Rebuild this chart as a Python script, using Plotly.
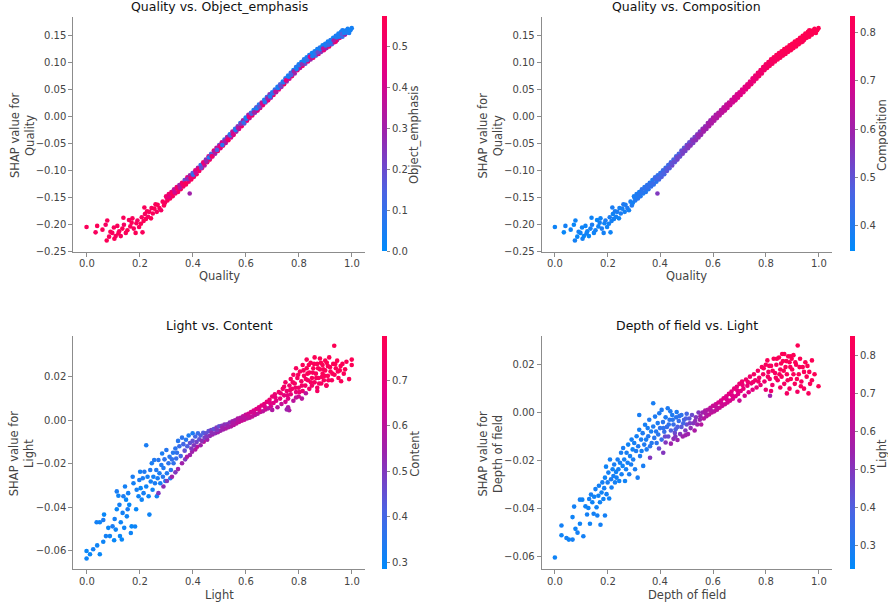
import plotly.graph_objects as go

# ---------------- data: Quality SHAP (shared by panels 1 and 2) ----------------
q_x = [0.000,0.034,0.040,0.060,0.072,0.076,0.078,0.085,0.090,0.097,
       0.103,0.105,0.110,0.116,0.120,0.123,0.129,0.135,0.139,0.141,
       0.148,0.154,0.160,0.165,0.170,0.173,0.178,0.185,0.188,0.192,
       0.198,0.205,0.208,0.211,0.215,0.218,0.220,0.224,0.228,0.232,
       0.236,0.243,0.245,0.250,0.256,0.260,0.265,0.268,0.275,0.281,
       0.287,0.292,0.296,0.389,
       0.300,0.305,0.310,0.315,0.320,0.325,0.330,0.335,0.340,0.345,
       0.350,0.355,0.360,0.365,0.370,0.375,0.380,0.385,0.390,0.395,
       0.400,0.405,0.410,0.415,0.420,0.425,0.430,0.435,0.440,0.445,
       0.450,0.455,0.460,0.465,0.470,0.475,0.480,0.485,0.490,0.495,
       0.500,0.505,0.510,0.515,0.520,0.525,0.530,0.535,0.540,0.545,
       0.550,0.555,0.560,0.565,0.570,0.575,0.580,0.585,0.590,0.595,
       0.600,0.605,0.610,0.615,0.620,0.625,0.630,0.635,0.640,0.645,
       0.650,0.655,0.660,0.665,0.670,0.675,0.680,0.685,0.690,0.695,
       0.700,0.705,0.710,0.715,0.720,0.725,0.730,0.735,0.740,0.745,
       0.750,0.755,0.760,0.765,0.770,0.775,0.780,0.785,0.790,0.795,
       0.800,0.805,0.810,0.815,0.820,0.825,0.830,0.835,0.840,0.845,
       0.850,0.855,0.860,0.865,0.870,0.875,0.880,0.885,0.890,0.895,
       0.900,0.905,0.910,0.915,0.920,0.925,0.930,0.935,0.940,0.945,
       0.950,0.955,0.960,0.965,0.970,0.975,0.980,
       0.990,1.000,
       0.995,0.985,0.965,0.940]
q_y = [-0.205,-0.215,-0.203,-0.210,-0.201,-0.230,-0.193,-0.223,-0.214,-0.216,
       -0.206,-0.227,-0.222,-0.203,-0.217,-0.213,-0.222,-0.208,-0.188,-0.201,
       -0.216,-0.211,-0.192,-0.204,-0.197,-0.189,-0.208,-0.216,-0.198,-0.193,
       -0.205,-0.199,-0.187,-0.215,-0.194,-0.169,-0.181,-0.190,-0.176,-0.186,
       -0.177,-0.189,-0.170,-0.180,-0.171,-0.163,-0.177,-0.164,-0.170,-0.174,
       -0.158,-0.165,-0.160,-0.143,
       -0.148,-0.156,-0.144,-0.152,-0.140,-0.148,-0.135,-0.143,-0.131,-0.140,
       -0.127,-0.135,-0.123,-0.130,-0.118,-0.126,-0.113,-0.121,-0.109,-0.117,
       -0.105,-0.112,-0.100,-0.107,-0.095,-0.101,-0.090,-0.096,-0.085,-0.091,
       -0.080,-0.085,-0.074,-0.080,-0.069,-0.074,-0.063,-0.069,-0.058,-0.064,
       -0.053,-0.059,-0.048,-0.054,-0.043,-0.049,-0.038,-0.044,-0.033,-0.039,
       -0.028,-0.034,-0.023,-0.028,-0.018,-0.023,-0.012,-0.018,-0.007,-0.013,
       -0.002,-0.008,0.003,-0.003,0.007,0.002,0.012,0.007,0.017,0.011,
       0.022,0.016,0.026,0.021,0.031,0.026,0.036,0.030,0.041,0.035,
       0.045,0.040,0.050,0.045,0.055,0.050,0.060,0.055,0.065,0.060,
       0.071,0.065,0.076,0.070,0.081,0.075,0.086,0.080,0.092,0.086,
       0.097,0.090,0.101,0.094,0.106,0.098,0.110,0.102,0.114,0.106,
       0.118,0.109,0.121,0.113,0.125,0.116,0.128,0.120,0.132,0.123,
       0.135,0.127,0.139,0.130,0.142,0.134,0.146,0.138,0.150,0.142,
       0.154,0.146,0.157,0.148,0.159,0.152,0.160,
       0.155,0.164,
       0.160,0.163,0.160,0.139]
obj_emphasis = [0.55,0.54,0.56,0.55,0.53,0.56,0.55,0.54,0.56,0.55,
                0.55,0.56,0.54,0.55,0.56,0.55,0.54,0.56,0.55,0.53,
                0.55,0.56,0.54,0.55,0.56,0.55,0.54,0.56,0.55,0.53,
                0.55,0.56,0.54,0.55,0.56,0.55,0.54,0.56,0.55,0.53,
                0.55,0.56,0.54,0.55,0.56,0.55,0.54,0.56,0.55,0.53,
                0.55,0.56,0.54,0.30,
                0.52,0.55,0.50,0.56,0.48,0.54,0.35,0.55,0.50,0.53,
                0.30,0.55,0.50,0.52,0.20,0.55,0.45,0.50,0.30,0.55,
                0.15,0.50,0.45,0.55,0.30,0.52,0.10,0.45,0.50,0.35,
                0.25,0.55,0.40,0.50,0.15,0.45,0.50,0.30,0.35,0.55,
                0.20,0.45,0.40,0.50,0.10,0.35,0.30,0.55,0.05,0.40,
                0.35,0.50,0.10,0.30,0.25,0.45,0.08,0.50,0.30,0.20,
                0.05,0.45,0.30,0.35,0.10,0.50,0.05,0.25,0.20,0.45,
                0.08,0.40,0.30,0.50,0.05,0.35,0.10,0.45,0.25,0.30,
                0.05,0.50,0.10,0.30,0.05,0.45,0.15,0.35,0.03,0.50,
                0.08,0.25,0.05,0.40,0.10,0.50,0.04,0.30,0.08,0.45,
                0.05,0.35,0.03,0.50,0.08,0.20,0.04,0.45,0.06,0.30,
                0.03,0.50,0.05,0.15,0.04,0.40,0.07,0.25,0.03,0.45,
                0.05,0.30,0.04,0.50,0.06,0.15,0.03,0.40,0.05,0.25,
                0.04,0.45,0.03,0.10,0.05,0.30,0.04,
                0.05,0.04,
                0.05,0.04,0.05,0.50]
composition = [0.37,0.36,0.38,0.37,0.36,0.38,0.37,0.36,0.38,0.37,
               0.37,0.38,0.36,0.37,0.38,0.37,0.36,0.38,0.37,0.39,
               0.37,0.38,0.36,0.37,0.38,0.37,0.39,0.38,0.37,0.39,
               0.37,0.38,0.39,0.37,0.38,0.39,0.37,0.38,0.39,0.38,
               0.39,0.37,0.38,0.39,0.38,0.40,0.38,0.39,0.40,0.38,
               0.39,0.40,0.38,0.55,
               0.38,0.40,0.39,0.41,0.38,0.40,0.42,0.39,0.41,0.40,
               0.42,0.40,0.41,0.43,0.40,0.42,0.44,0.41,0.43,0.45,
               0.42,0.48,0.44,0.46,0.43,0.50,0.45,0.47,0.44,0.52,
               0.46,0.48,0.45,0.53,0.47,0.50,0.48,0.54,0.49,0.52,
               0.50,0.55,0.51,0.56,0.52,0.54,0.53,0.57,0.54,0.58,
               0.55,0.57,0.56,0.60,0.57,0.59,0.58,0.61,0.59,0.62,
               0.60,0.62,0.61,0.63,0.62,0.64,0.63,0.65,0.64,0.66,
               0.65,0.67,0.66,0.68,0.67,0.69,0.68,0.70,0.69,0.71,
               0.70,0.72,0.71,0.73,0.72,0.74,0.73,0.75,0.74,0.76,
               0.75,0.76,0.76,0.77,0.77,0.78,0.78,0.78,0.79,0.79,
               0.79,0.80,0.80,0.80,0.81,0.80,0.81,0.81,0.82,0.81,
               0.82,0.82,0.82,0.82,0.83,0.82,0.83,0.82,0.83,0.83,
               0.83,0.82,0.83,0.83,0.83,0.82,0.83,0.83,0.83,0.83,
               0.83,0.82,0.83,0.83,0.83,0.83,0.83,
               0.83,0.83,
               0.83,0.83,0.83,0.82]
# core of the Quality band (points along the middle of the band)
q_core_x = [0.302,0.312,0.322,0.332,0.342,0.352,0.362,0.372,0.382,0.392,
            0.402,0.412,0.422,0.432,0.442,0.452,0.462,0.472,0.482,0.492,
            0.502,0.512,0.522,0.532,0.542,0.552,0.562,0.572,0.582,0.592,
            0.602,0.612,0.622,0.632,0.642,0.652,0.662,0.672,0.682,0.692,
            0.702,0.712,0.722,0.732,0.742,0.752,0.762,0.772,0.782,0.792,
            0.802,0.812,0.822,0.832,0.842,0.852,0.862,0.872,0.882,0.892,
            0.902,0.912,0.922,0.932,0.942,0.952,0.962,0.972,0.982,0.992]
q_core_y = [-0.151,-0.149,-0.143,-0.141,-0.134,-0.132,-0.126,-0.124,-0.116,-0.114,
            -0.108,-0.105,-0.097,-0.095,-0.087,-0.084,-0.076,-0.074,-0.065,-0.062,
            -0.055,-0.053,-0.045,-0.043,-0.035,-0.033,-0.025,-0.022,-0.014,-0.011,
            -0.004,-0.001,0.005,0.008,0.015,0.018,0.024,0.027,0.034,0.037,
            0.043,0.046,0.053,0.056,0.063,0.067,0.074,0.077,0.084,0.088,
            0.095,0.097,0.103,0.105,0.111,0.112,0.118,0.119,0.125,0.126,
            0.132,0.133,0.139,0.141,0.147,0.148,0.153,0.155,0.156,0.160]
q_core_obj = [0.50,0.45,0.55,0.40,0.52,0.35,0.50,0.55,0.25,0.48,
              0.10,0.40,0.50,0.20,0.45,0.30,0.05,0.50,0.35,0.15,
              0.45,0.08,0.30,0.50,0.12,0.40,0.05,0.35,0.25,0.10,
              0.05,0.45,0.15,0.30,0.05,0.20,0.40,0.08,0.30,0.05,
              0.10,0.35,0.05,0.20,0.08,0.45,0.05,0.15,0.30,0.04,
              0.06,0.25,0.04,0.10,0.40,0.05,0.08,0.20,0.04,0.35,
              0.05,0.10,0.04,0.30,0.06,0.05,0.15,0.04,0.05,0.03]
q_core_comp = [0.39,0.40,0.41,0.41,0.42,0.43,0.43,0.44,0.45,0.46,
               0.46,0.47,0.48,0.49,0.50,0.51,0.52,0.52,0.53,0.54,
               0.55,0.56,0.56,0.57,0.58,0.59,0.60,0.60,0.61,0.62,
               0.63,0.63,0.64,0.65,0.66,0.67,0.68,0.68,0.69,0.70,
               0.71,0.72,0.73,0.74,0.74,0.75,0.76,0.77,0.77,0.78,
               0.79,0.79,0.80,0.80,0.81,0.81,0.82,0.82,0.82,0.83,
               0.83,0.83,0.83,0.83,0.83,0.83,0.83,0.83,0.83,0.83]

# ---------------- data: Light SHAP vs Content ----------------
light_x = [0.000,0.000,0.013,0.025,0.040,0.050,0.038,0.050,0.063,0.066,
           0.063,0.073,0.082,0.088,0.098,0.104,0.106,0.110,0.114,0.114,
           0.120,0.124,0.126,0.129,0.133,0.136,0.139,0.142,0.145,0.149,
           0.152,0.155,0.157,0.161,0.167,0.170,0.174,0.177,0.183,0.187,
           0.189,0.196,0.199,0.202,0.204,0.208,0.212,0.215,0.218,0.225,
           0.225,0.230,0.234,0.237,0.240,0.242,0.246,0.249,0.252,0.255,
           0.258,0.263,0.265,0.268,0.271,0.275,0.278,0.282,0.285,0.288,
           0.290,0.294,0.297,0.301,0.303,0.309,0.313,0.316,0.318,0.322,
           0.326,0.328,0.335,0.338,0.341,0.345,0.350,0.355,0.360,
           0.271,0.290,0.303,0.322,0.335,0.345,0.360,0.372,0.379,0.390,
           0.398,0.410,0.417,0.430,0.442,
           0.365,0.370,0.375,0.380,0.385,0.390,0.395,0.400,0.400,0.405,
           0.410,0.415,0.420,0.425,0.430,0.435,0.440,0.445,0.450,0.455,
           0.460,0.465,0.470,0.475,0.480,0.485,0.490,0.495,0.500,0.505,
           0.510,0.515,0.520,0.525,0.530,0.535,0.540,0.545,0.550,0.555,
           0.560,0.565,0.570,0.575,0.580,0.585,0.590,0.595,0.600,0.605,
           0.610,0.615,0.620,0.625,0.630,0.635,0.640,0.645,0.650,0.655,
           0.660,0.665,0.670,0.675,0.680,0.685,0.690,0.695,0.700,0.700,
           0.705,0.710,0.715,0.720,0.725,0.730,0.735,0.740,0.745,0.750,
           0.750,0.755,0.760,0.760,0.765,0.770,0.770,0.775,0.780,0.780,
           0.785,0.790,0.790,0.795,0.800,0.800,0.805,0.810,0.815,0.815,
           0.820,0.825,0.830,0.830,0.835,0.840,0.840,0.845,0.850,0.850,
           0.855,0.860,0.860,0.865,0.870,0.870,0.875,0.880,0.880,0.885,
           0.890,0.890,0.895,0.900,0.900,0.905,0.910,0.910,0.915,0.920,
           0.925,0.930,0.934,0.935,0.940,0.945,0.950,0.955,0.960,0.965,
           0.970,0.980,0.990,1.000,1.000,0.904,0.870,0.764,0.755,
           0.452,0.472,0.492,0.512,0.532,0.552,0.572,0.592,0.612,0.632,
           0.652,0.672,0.692,0.712,0.732,
           0.745,0.758,0.768,0.778,0.788,0.798,0.803,0.812,0.818,0.827,
           0.833,0.838,0.846,0.853,0.858,0.866,0.873,0.877,0.884,0.887,
           0.893,0.898,0.906,0.912,0.918,0.927,0.938,0.948,0.958,0.975,
           0.827,0.812,0.790]
light_y = [-0.0603,-0.0637,-0.0618,-0.0595,-0.0577,-0.0618,-0.0470,-0.0470,-0.0460,-0.0435,
           -0.0560,-0.0534,-0.0496,-0.0534,-0.0489,-0.0553,-0.0455,-0.0504,-0.0410,-0.0328,
           -0.0348,-0.0390,-0.0534,-0.0470,-0.0550,-0.0427,-0.0350,-0.0496,-0.0305,-0.0366,
           -0.0443,-0.0410,-0.0336,-0.0390,-0.0520,-0.0489,-0.0260,-0.0290,-0.0490,-0.0410,
           -0.0320,-0.0350,-0.0275,-0.0237,-0.0313,-0.0366,-0.0267,-0.0336,-0.0237,-0.0115,
           -0.0305,-0.0260,-0.0350,-0.0435,-0.0229,-0.0282,-0.0198,-0.0320,-0.0260,-0.0183,
           -0.0290,-0.0229,-0.0350,-0.0267,-0.0183,-0.0244,-0.0290,-0.0206,-0.0153,-0.0260,
           -0.0220,-0.0180,-0.0280,-0.0137,-0.0244,-0.0198,-0.0168,-0.0267,-0.0229,-0.0180,
           -0.0150,-0.0198,-0.0130,-0.0176,-0.0150,-0.0095,-0.0120,-0.0165,-0.0080,
           -0.0336,-0.0305,-0.0280,-0.0260,-0.0240,-0.0225,-0.0198,-0.0180,-0.0168,-0.0160,
           -0.0145,-0.0135,-0.0122,-0.0115,-0.0099,
           -0.0110,-0.0140,-0.0090,-0.0120,-0.0070,-0.0105,-0.0130,-0.0060,-0.0095,-0.0115,
           -0.0075,-0.0100,-0.0060,-0.0088,-0.0070,-0.0095,-0.0058,-0.0080,-0.0060,-0.0090,
           -0.0050,-0.0072,-0.0045,-0.0065,-0.0040,-0.0060,-0.0033,-0.0055,-0.0028,-0.0048,
           -0.0025,-0.0042,-0.0020,-0.0038,-0.0018,-0.0032,-0.0010,-0.0028,-0.0005,-0.0022,
           0.0000,-0.0015,0.0008,-0.0008,0.0012,-0.0002,0.0018,0.0003,0.0025,0.0008,
           0.0030,0.0012,0.0038,0.0018,0.0045,0.0025,0.0052,0.0030,0.0060,0.0038,
           0.0068,0.0042,0.0075,0.0050,0.0085,0.0055,0.0095,0.0065,0.0110,0.0048,
           0.0080,0.0120,0.0090,0.0060,0.0130,0.0100,0.0075,0.0145,0.0115,0.0085,
           0.0175,0.0135,0.0100,0.0060,0.0160,0.0190,0.0120,0.0145,0.0090,0.0210,
           0.0170,0.0130,0.0240,0.0195,0.0150,0.0110,0.0225,0.0180,0.0255,0.0135,
           0.0205,0.0160,0.0240,0.0280,0.0185,0.0145,0.0220,0.0265,0.0195,0.0160,
           0.0240,0.0290,0.0175,0.0215,0.0260,0.0150,0.0195,0.0235,0.0285,0.0170,
           0.0215,0.0255,0.0185,0.0275,0.0230,0.0160,0.0205,0.0250,0.0290,0.0225,
           0.0185,0.0260,0.0344,0.0210,0.0240,0.0275,0.0195,0.0230,0.0180,0.0260,
           0.0215,0.0270,0.0190,0.0280,0.0255,0.0160,0.0135,0.0046,0.0050,
           -0.0075,-0.0058,-0.0045,-0.0035,-0.0026,-0.0014,-0.0002,0.0010,0.0020,0.0035,
           0.0048,0.0062,0.0080,0.0105,0.0125,
           0.0155,0.0115,0.0140,0.0175,0.0150,0.0210,0.0130,0.0160,0.0230,0.0190,
           0.0215,0.0255,0.0175,0.0220,0.0260,0.0195,0.0240,0.0170,0.0265,0.0200,
           0.0235,0.0205,0.0265,0.0185,0.0245,0.0215,0.0260,0.0225,0.0250,0.0235,
           0.0125,0.0100,0.0105]
content = [0.30,0.31,0.30,0.32,0.31,0.30,0.32,0.31,0.33,0.30,
           0.31,0.32,0.30,0.31,0.33,0.30,0.32,0.31,0.30,0.33,
           0.31,0.32,0.30,0.31,0.30,0.32,0.33,0.31,0.32,0.30,
           0.31,0.33,0.32,0.30,0.31,0.30,0.33,0.32,0.31,0.30,
           0.32,0.31,0.33,0.32,0.30,0.31,0.33,0.32,0.34,0.33,
           0.31,0.32,0.30,0.31,0.34,0.32,0.33,0.31,0.32,0.34,
           0.33,0.34,0.31,0.33,0.35,0.33,0.32,0.34,0.33,0.35,
           0.34,0.36,0.33,0.35,0.34,0.36,0.35,0.34,0.36,0.37,
           0.35,0.37,0.36,0.38,0.37,0.35,0.38,0.40,0.36,
           0.50,0.52,0.50,0.55,0.50,0.55,0.55,0.50,0.58,0.55,
           0.55,0.58,0.60,0.55,0.60,
           0.40,0.45,0.35,0.42,0.33,0.45,0.50,0.33,0.45,0.50,
           0.40,0.48,0.38,0.45,0.42,0.52,0.42,0.48,0.45,0.55,
           0.45,0.52,0.48,0.55,0.45,0.52,0.50,0.55,0.45,0.55,
           0.50,0.55,0.52,0.58,0.50,0.57,0.52,0.58,0.55,0.60,
           0.55,0.60,0.58,0.62,0.58,0.62,0.60,0.63,0.62,0.60,
           0.65,0.60,0.65,0.62,0.66,0.60,0.68,0.60,0.68,0.62,
           0.70,0.60,0.70,0.62,0.70,0.60,0.72,0.65,0.72,0.58,
           0.68,0.72,0.68,0.60,0.74,0.70,0.62,0.74,0.70,0.65,
           0.75,0.72,0.68,0.58,0.74,0.76,0.70,0.74,0.60,0.76,
           0.75,0.70,0.77,0.76,0.74,0.65,0.77,0.76,0.78,0.72,
           0.77,0.75,0.78,0.78,0.76,0.74,0.77,0.78,0.77,0.75,
           0.78,0.79,0.76,0.77,0.78,0.75,0.77,0.78,0.79,0.76,
           0.78,0.78,0.77,0.79,0.78,0.76,0.78,0.78,0.79,0.78,
           0.77,0.79,0.79,0.78,0.78,0.79,0.78,0.79,0.78,0.79,
           0.78,0.79,0.78,0.79,0.79,0.77,0.76,0.58,0.55,
           0.50,0.52,0.50,0.55,0.55,0.58,0.60,0.60,0.62,0.64,
           0.66,0.66,0.68,0.70,0.72,
           0.75,0.70,0.74,0.76,0.74,0.77,0.72,0.75,0.77,0.76,
           0.78,0.78,0.76,0.77,0.78,0.77,0.78,0.76,0.79,0.77,
           0.78,0.78,0.79,0.77,0.78,0.78,0.79,0.78,0.79,0.79,
           0.60,0.60,0.62]

# ---------------- data: Depth of field SHAP vs Light ----------------
dof_x = [0.000,0.025,0.025,0.044,0.053,0.067,0.067,0.073,0.078,0.086,
         0.095,0.095,0.104,0.108,0.116,0.122,0.127,0.130,0.133,0.137,
         0.142,0.147,0.149,0.154,0.158,0.161,0.165,0.167,0.171,0.173,
         0.177,0.180,0.184,0.187,0.190,0.190,0.194,0.196,0.200,0.203,
         0.206,0.209,0.213,0.215,0.219,0.222,0.225,0.228,0.232,0.234,
         0.238,0.241,0.244,0.247,0.251,0.253,0.257,0.259,0.263,0.266,
         0.270,0.272,0.276,0.278,0.282,0.285,0.289,0.291,0.295,0.297,
         0.301,0.304,0.308,0.310,0.314,0.316,0.320,0.320,0.323,0.327,
         0.329,0.333,0.335,0.339,0.342,0.346,0.348,0.352,0.354,0.358,
         0.361,0.365,0.367,0.373,0.373,0.377,0.380,0.384,0.386,0.390,
         0.392,0.396,0.399,0.405,
         0.361,0.411,0.395,
         0.405,0.410,0.415,0.420,0.420,0.425,0.428,0.430,0.435,0.440,
         0.440,0.445,0.450,0.450,0.455,0.460,0.465,0.465,0.470,0.475,
         0.480,0.480,0.485,0.490,0.495,0.500,0.500,0.505,0.510,0.515,
         0.520,0.525,0.530,0.535,0.540,0.545,0.550,0.555,0.560,0.565,
         0.570,0.575,0.580,0.585,0.590,0.595,0.600,0.605,0.610,0.615,
         0.620,0.625,0.630,0.635,0.640,0.645,0.650,0.655,0.660,0.665,
         0.670,0.675,0.680,0.685,0.690,0.695,0.700,0.700,0.705,0.710,
         0.715,0.720,0.725,0.730,0.735,0.740,0.745,0.750,0.755,0.760,
         0.765,0.770,0.775,0.780,0.785,0.790,0.795,0.800,0.800,0.806,
         0.810,0.815,0.816,0.820,0.825,0.830,0.835,0.840,0.845,0.850,
         0.855,0.860,0.865,0.870,0.870,0.875,0.880,0.885,0.890,0.890,
         0.895,0.900,0.905,0.910,0.915,0.921,0.920,0.925,0.930,0.935,
         0.940,0.945,0.950,0.955,0.962,0.965,0.975,0.975,1.000,0.855,
         0.880,0.820,
         0.512,0.532,0.552,0.572,0.592,0.612,0.632,0.652,0.672,0.692,
         0.712,0.732,0.752,0.772,
         0.412,0.432,0.447,0.458,0.472,0.487,0.497,0.438,0.462,0.418,
         0.457,0.495,
         0.792,0.808,0.813,0.826,0.838,0.842,0.852,0.858,0.868,0.878,
         0.883,0.893,0.898,0.905,0.912,0.918,0.928,0.933,0.945,0.958,
         0.968,0.985,0.862,0.895]
dof_y = [-0.0606,-0.0472,-0.0513,-0.0524,-0.0531,-0.0531,-0.0437,-0.0393,-0.0486,-0.0502,
         -0.0465,-0.0364,-0.0364,-0.0517,-0.0392,-0.0426,-0.0399,-0.0361,-0.0465,-0.0343,
         -0.0375,-0.0423,-0.0352,-0.0320,-0.0396,-0.0430,-0.0348,-0.0306,-0.0375,-0.0469,
         -0.0334,-0.0292,-0.0361,-0.0316,-0.0272,-0.0430,-0.0226,-0.0341,-0.0292,-0.0251,
         -0.0359,-0.0196,-0.0279,-0.0313,-0.0237,-0.0265,-0.0217,-0.0292,-0.0248,-0.0272,
         -0.0196,-0.0237,-0.0286,-0.0210,-0.0168,-0.0258,-0.0223,-0.0148,-0.0196,-0.0286,
         -0.0237,-0.0168,-0.0210,-0.0134,-0.0258,-0.0182,-0.0217,-0.0113,-0.0154,-0.0196,
         -0.0127,-0.0237,-0.0161,-0.0099,-0.0272,-0.0141,-0.0072,-0.0010,-0.0182,-0.0113,
         -0.0161,-0.0086,-0.0223,-0.0134,-0.0051,-0.0113,-0.0154,-0.0065,-0.0099,-0.0030,
         -0.0141,-0.0079,-0.0127,0.0039,-0.0058,-0.0106,-0.0017,-0.0079,-0.0127,-0.0044,
         -0.0092,-0.0003,-0.0065,-0.0113,
         -0.0189,-0.0168,-0.0150,
         0.0011,-0.0040,-0.0080,-0.0020,-0.0125,-0.0060,0.0018,-0.0100,-0.0030,-0.0075,
         -0.0130,-0.0010,-0.0050,-0.0110,-0.0085,-0.0020,-0.0060,-0.0115,-0.0035,-0.0090,
         -0.0010,-0.0060,-0.0100,-0.0030,-0.0075,-0.0005,-0.0050,-0.0090,-0.0025,-0.0065,
         -0.0010,-0.0045,-0.0075,-0.0020,-0.0050,0.0000,-0.0030,-0.0050,0.0000,-0.0025,
         0.0008,-0.0015,0.0012,-0.0008,0.0020,0.0000,0.0028,0.0005,0.0035,0.0012,
         0.0042,0.0020,0.0050,0.0028,0.0060,0.0035,0.0068,0.0042,0.0078,0.0050,
         0.0088,0.0058,0.0100,0.0068,0.0108,0.0078,0.0120,0.0050,0.0090,0.0130,
         0.0100,0.0070,0.0138,0.0112,0.0085,0.0150,0.0122,0.0095,0.0160,0.0135,
         0.0105,0.0175,0.0145,0.0115,0.0190,0.0160,0.0130,0.0200,0.0095,0.0218,
         0.0170,0.0140,0.0070,0.0195,0.0115,0.0225,0.0165,0.0200,0.0135,0.0230,
         0.0180,0.0150,0.0215,0.0245,0.0120,0.0190,0.0160,0.0235,0.0210,0.0100,
         0.0140,0.0180,0.0240,0.0120,0.0200,0.0280,0.0087,0.0160,0.0225,0.0130,
         0.0190,0.0100,0.0210,0.0150,0.0080,0.0170,0.0218,0.0135,0.0110,0.0105,
         0.0080,0.0090,
         -0.0045,-0.0035,-0.0015,-0.0003,0.0008,0.0022,0.0038,0.0055,0.0072,0.0092,
         0.0115,0.0128,0.0128,0.0130,
         -0.0065,-0.0050,-0.0030,-0.0070,-0.0015,-0.0045,-0.0025,0.0005,0.0002,-0.0100,
         -0.0100,-0.0095,
         0.0185,0.0150,0.0195,0.0175,0.0145,0.0225,0.0160,0.0205,0.0175,0.0215,
         0.0135,0.0190,0.0225,0.0160,0.0210,0.0140,0.0190,0.0110,0.0170,0.0195,
         0.0120,0.0160,0.0245,0.0235]
light_val = [0.27,0.28,0.27,0.28,0.27,0.28,0.27,0.28,0.27,0.28,
             0.27,0.28,0.27,0.28,0.27,0.28,0.27,0.28,0.27,0.28,
             0.27,0.28,0.27,0.28,0.27,0.28,0.27,0.28,0.27,0.28,
             0.27,0.28,0.27,0.28,0.27,0.28,0.27,0.28,0.29,0.28,
             0.27,0.28,0.29,0.28,0.27,0.28,0.29,0.28,0.27,0.28,
             0.29,0.28,0.27,0.28,0.29,0.28,0.27,0.29,0.28,0.27,
             0.28,0.29,0.28,0.27,0.29,0.28,0.29,0.28,0.27,0.29,
             0.28,0.29,0.30,0.28,0.29,0.30,0.28,0.29,0.30,0.29,
             0.28,0.30,0.29,0.30,0.28,0.29,0.30,0.29,0.31,0.30,
             0.32,0.29,0.31,0.29,0.30,0.32,0.30,0.31,0.33,0.30,
             0.32,0.30,0.33,0.35,
             0.50,0.50,0.45,
             0.30,0.32,0.35,0.30,0.50,0.35,0.30,0.45,0.32,0.40,
             0.55,0.30,0.35,0.52,0.45,0.32,0.40,0.55,0.35,0.50,
             0.33,0.42,0.55,0.38,0.50,0.38,0.45,0.55,0.42,0.52,
             0.45,0.50,0.58,0.50,0.55,0.50,0.55,0.60,0.55,0.60,
             0.58,0.60,0.60,0.62,0.62,0.63,0.65,0.62,0.65,0.63,
             0.68,0.65,0.68,0.65,0.70,0.66,0.70,0.67,0.72,0.68,
             0.72,0.68,0.74,0.70,0.74,0.70,0.76,0.65,0.72,0.77,
             0.74,0.68,0.78,0.75,0.70,0.78,0.76,0.72,0.80,0.77,
             0.74,0.80,0.78,0.75,0.82,0.80,0.77,0.82,0.75,0.83,
             0.80,0.78,0.55,0.82,0.78,0.83,0.81,0.82,0.80,0.83,
             0.82,0.81,0.83,0.84,0.80,0.83,0.82,0.84,0.83,0.80,
             0.82,0.83,0.84,0.82,0.83,0.84,0.80,0.83,0.84,0.82,
             0.83,0.82,0.84,0.83,0.82,0.83,0.84,0.83,0.84,0.80,
             0.80,0.78,
             0.48,0.52,0.55,0.58,0.60,0.63,0.66,0.68,0.70,0.72,
             0.75,0.77,0.78,0.79,
             0.33,0.33,0.32,0.40,0.33,0.38,0.40,0.30,0.30,0.45,
             0.50,0.55,
             0.82,0.80,0.82,0.82,0.81,0.83,0.82,0.83,0.83,0.83,
             0.82,0.83,0.84,0.83,0.84,0.83,0.84,0.82,0.83,0.84,
             0.83,0.84,0.84,0.84]

# ---------------- chart text / ticks ----------------
titles = ["Quality vs. Object_emphasis", "Quality vs. Composition",
          "Light vs. Content", "Depth of field vs. Light"]
x_labels = ["Quality", "Quality", "Light", "Depth of field"]
y_labels = ["SHAP value for<br>Quality", "SHAP value for<br>Quality",
            "SHAP value for<br>Light", "SHAP value for<br>Depth of field"]
cbar_titles = ["Object_emphasis", "Composition", "Content", "Light"]
x_ticks = [0.0, 0.2, 0.4, 0.6, 0.8, 1.0]
y_ticks_top = [-0.25, -0.20, -0.15, -0.10, -0.05, 0.00, 0.05, 0.10, 0.15]
y_ticks_bottom = [-0.06, -0.04, -0.02, 0.00, 0.02]
cb_ticks = [[0.0, 0.1, 0.2, 0.3, 0.4, 0.5],
            [0.4, 0.5, 0.6, 0.7, 0.8],
            [0.3, 0.4, 0.5, 0.6, 0.7],
            [0.3, 0.4, 0.5, 0.6, 0.7, 0.8]]
cb_ranges = [(0.0, 0.573), (0.347, 0.834), (0.286, 0.798), (0.239, 0.852)]

# ---------------- figure ----------------
W, H = 888, 607
def px(v): return v / W
def py(v): return 1 - v / H

colorscale = [[0.0, "rgb(0,139,251)"], [0.25, "rgb(75,99,227)"],
              [0.5, "rgb(155,35,173)"], [0.75, "rgb(224,0,134)"],
              [1.0, "rgb(255,0,81)"]]

TXT = "#444444"
LINE = "#8c8c8c"
FONT = "DejaVu Sans"

panels = [
    (q_x + q_core_x, q_y + q_core_y, obj_emphasis + q_core_obj),
    (q_x + q_core_x, q_y + q_core_y, composition + q_core_comp),
    (light_x, light_y, content),
    (dof_x, dof_y, light_val),
]
# geometry in pixels: (left, right, top, bottom)
geo = [(73.3, 365.0, 16.7, 254.0), (541.7, 831.7, 16.7, 254.0),
       (73.3, 365.0, 338.3, 574.0), (541.7, 831.7, 338.3, 574.0)]
y_ranges = [(-0.2513, 0.1855), (-0.2513, 0.1855), (-0.0687, 0.0391), (-0.0655, 0.0322)]
cb_left = [381.7, 849.7, 382.3, 849.7]
xlabel_gap = [16.0, 16.0, 18.0, 18.0]

fig = go.Figure()
layout = dict(width=W, height=H, margin=dict(l=0, r=0, t=0, b=0),
              paper_bgcolor="white", plot_bgcolor="white", showlegend=False,
              font=dict(family=FONT, size=10, color=TXT))
annotations = []
for i, (xs, ys, cs) in enumerate(panels):
    n = min(len(xs), len(ys), len(cs))
    k = "" if i == 0 else str(i + 1)
    fig.add_trace(go.Scatter(
        x=xs[:n], y=ys[:n], mode="markers", xaxis="x" + k, yaxis="y" + k,
        marker=dict(color=cs[:n], coloraxis="coloraxis" + k, size=4.6,
                    line=dict(width=0)),
        hoverinfo="skip"))
    l, r, t, b = geo[i]
    yt = y_ticks_top if i < 2 else y_ticks_bottom
    layout["xaxis" + k] = dict(
        domain=[px(l), px(r)], anchor="y" + k, range=[-0.05, 1.05],
        tickmode="array", tickvals=x_ticks, showticklabels=False,
        showgrid=False, zeroline=False, showline=True, linecolor=LINE, linewidth=1,
        ticks="outside", ticklen=4, tickwidth=1, tickcolor=LINE)
    layout["yaxis" + k] = dict(
        domain=[py(b), py(t)], anchor="x" + k, range=list(y_ranges[i]),
        tickmode="array", tickvals=yt,
        ticktext=[(f"{v:.2f}").replace("-", "\u2212") for v in yt],
        showgrid=False, zeroline=False, showline=True, linecolor=LINE, linewidth=1,
        ticks="outside", ticklen=4, tickwidth=1, tickcolor=LINE,
        tickfont=dict(size=10, color=TXT, family=FONT))
    cmin, cmax = cb_ranges[i]
    layout["coloraxis" + k] = dict(
        colorscale=colorscale, cmin=cmin, cmax=cmax,
        colorbar=dict(x=px(cb_left[i]), xanchor="left", xpad=0, ypad=0,
                      y=py(b - 0.7), yanchor="bottom", len=(b - 0.7 - t) / H,
                      lenmode="fraction", thickness=4.5, outlinewidth=0,
                      tickmode="array", tickvals=cb_ticks[i],
                      ticktext=[f"{v:.1f}" for v in cb_ticks[i]],
                      ticks="outside", ticklen=3.5, tickwidth=1, tickcolor=LINE,
                      tickfont=dict(size=10, color=TXT, family=FONT)))
    # x tick labels (placed at the data positions of the ticks)
    for v in x_ticks:
        annotations.append(dict(text=f"{v:.1f}", x=v, xref="x" + k,
                                y=py(b + 5.5), yref="paper", showarrow=False,
                                xanchor="center", yanchor="top", borderpad=0,
                                font=dict(size=10, color=TXT, family=FONT)))
    cx = (l + r) / 2
    # subplot title
    annotations.append(dict(text=titles[i], x=px(cx), y=py(t - 10), xref="paper",
                            yref="paper", showarrow=False, xanchor="center",
                            yanchor="middle",
                            font=dict(size=12.5, color="#111111", family=FONT)))
    # x-axis label
    annotations.append(dict(text=x_labels[i], x=px(cx), y=py(b + xlabel_gap[i]),
                            xref="paper", yref="paper", showarrow=False,
                            xanchor="center", yanchor="top", borderpad=0,
                            font=dict(size=11.5, color=TXT, family=FONT)))
    # y-axis label
    annotations.append(dict(text=y_labels[i], x=px(l - 51.5), y=py((t + b) / 2 + 1),
                            xref="paper", yref="paper", showarrow=False,
                            xanchor="center", yanchor="middle", textangle=-90,
                            font=dict(size=11.5, color=TXT, family=FONT)))
    # colorbar label
    annotations.append(dict(text=cbar_titles[i], x=px(cb_left[i] + 33), y=py((t + b) / 2 + 1),
                            xref="paper", yref="paper", showarrow=False,
                            xanchor="center", yanchor="middle", textangle=-90,
                            font=dict(size=11.5, color=TXT, family=FONT)))
layout["annotations"] = annotations
fig.update_layout(**layout)
fig.write_html("out.html")
